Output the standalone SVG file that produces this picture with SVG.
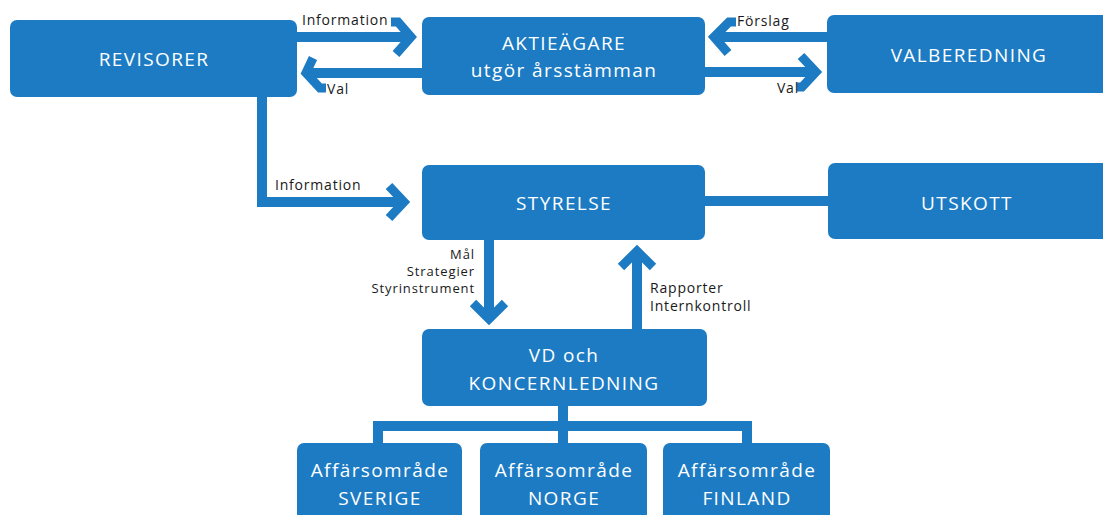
<svg xmlns="http://www.w3.org/2000/svg" width="1103" height="515" viewBox="0 0 1103 515">
<style>
.box{fill:#1c7bc3}
.bt{fill:#ffffff;font-family:"Open Sans","Liberation Sans",sans-serif;font-size:19px;letter-spacing:1.4px;text-anchor:middle}
.lb{fill:#1a1a1a;font-family:"Open Sans","Liberation Sans",sans-serif;font-size:14px;letter-spacing:0.8px}
.sm{font-size:13px;letter-spacing:0.9px;text-anchor:end}
.ln{fill:none;stroke:#1c7bc3;stroke-width:10}
.hd{fill:none;stroke:#1c7bc3;stroke-width:9;stroke-linejoin:miter;stroke-miterlimit:10}
</style>
<rect width="1103" height="515" fill="#ffffff"/>
<g id="connectors">
  <path class="ln" d="M297 37 H410"/>
  <path class="hd" d="M391 22 H398 L411 37 L396 54"/>
  <path class="ln" d="M422 73 H308"/>
  <path class="hd" d="M313 58 L306 73 L320 88 H326"/>
  <path class="ln" d="M827 37 H716"/>
  <path class="hd" d="M736 22 H729 L714 37 L728 53"/>
  <path class="ln" d="M705 72 H815"/>
  <path class="hd" d="M801 56 L816 72 L802 87 H797"/>
  <path class="ln" d="M262 97 V202 H403" stroke-linejoin="miter"/>
  <path class="hd" d="M389 186 L404 202 L389 218"/>
  <path class="ln" d="M705 201 H828" stroke-width="8"/>
  <path class="ln" d="M489 240 V318"/>
  <path class="hd" d="M473 303 L489 319 L505 303"/>
  <path class="ln" d="M637 329 V252"/>
  <path class="hd" d="M621 267 L637 251 L653 267"/>
  <path class="ln" d="M378 445 V426 H747 V445 M563 405 V445" stroke-linejoin="miter"/>
</g>
<g id="labels">
  <text class="lb" x="302" y="25">Information</text>
  <text class="lb" x="327" y="94">Val</text>
  <text class="lb" x="737" y="26">Förslag</text>
  <text class="lb" x="799" y="93" text-anchor="end">Val</text>
  <text class="lb" x="275" y="190">Information</text>
  <text class="lb sm" x="475" y="259">Mål</text>
  <text class="lb sm" x="475" y="276">Strategier</text>
  <text class="lb sm" x="475" y="293">Styrinstrument</text>
  <text class="lb" x="650" y="293">Rapporter</text>
  <text class="lb" x="650" y="311">Internkontroll</text>
</g>
<g id="revisorer">
  <rect class="box" x="10" y="20" width="287" height="77" rx="7"/>
  <text class="bt" x="154" y="66" letter-spacing="2">REVISORER</text>
</g>
<g id="aktieagare">
  <rect class="box" x="422" y="17" width="283" height="78" rx="7"/>
  <text class="bt" x="564" y="50">AKTIEÄGARE</text>
  <text class="bt" x="564" y="77">utgör årsstämman</text>
</g>
<g id="valberedning">
  <rect class="box" x="827" y="15" width="290" height="78" rx="7"/>
  <text class="bt" x="969" y="62">VALBEREDNING</text>
</g>
<g id="styrelse">
  <rect class="box" x="422" y="165" width="283" height="75" rx="7"/>
  <text class="bt" x="564" y="210">STYRELSE</text>
</g>
<g id="utskott">
  <rect class="box" x="828" y="163" width="290" height="76" rx="7"/>
  <text class="bt" x="967" y="210">UTSKOTT</text>
</g>
<g id="vd">
  <rect class="box" x="422" y="329" width="285" height="77" rx="7"/>
  <text class="bt" x="564" y="362">VD och</text>
  <text class="bt" x="564" y="390">KONCERNLEDNING</text>
</g>
<g id="sverige">
  <rect class="box" x="297" y="443" width="165" height="85" rx="7"/>
  <text class="bt" x="380" y="477" letter-spacing="0.6">Affärsområde</text>
  <text class="bt" x="380" y="505">SVERIGE</text>
</g>
<g id="norge">
  <rect class="box" x="480" y="443" width="167" height="85" rx="7"/>
  <text class="bt" x="564" y="477" letter-spacing="0.6">Affärsområde</text>
  <text class="bt" x="564" y="505">NORGE</text>
</g>
<g id="finland">
  <rect class="box" x="663" y="443" width="167" height="85" rx="7"/>
  <text class="bt" x="747" y="477" letter-spacing="0.6">Affärsområde</text>
  <text class="bt" x="747" y="505">FINLAND</text>
</g>
</svg>
